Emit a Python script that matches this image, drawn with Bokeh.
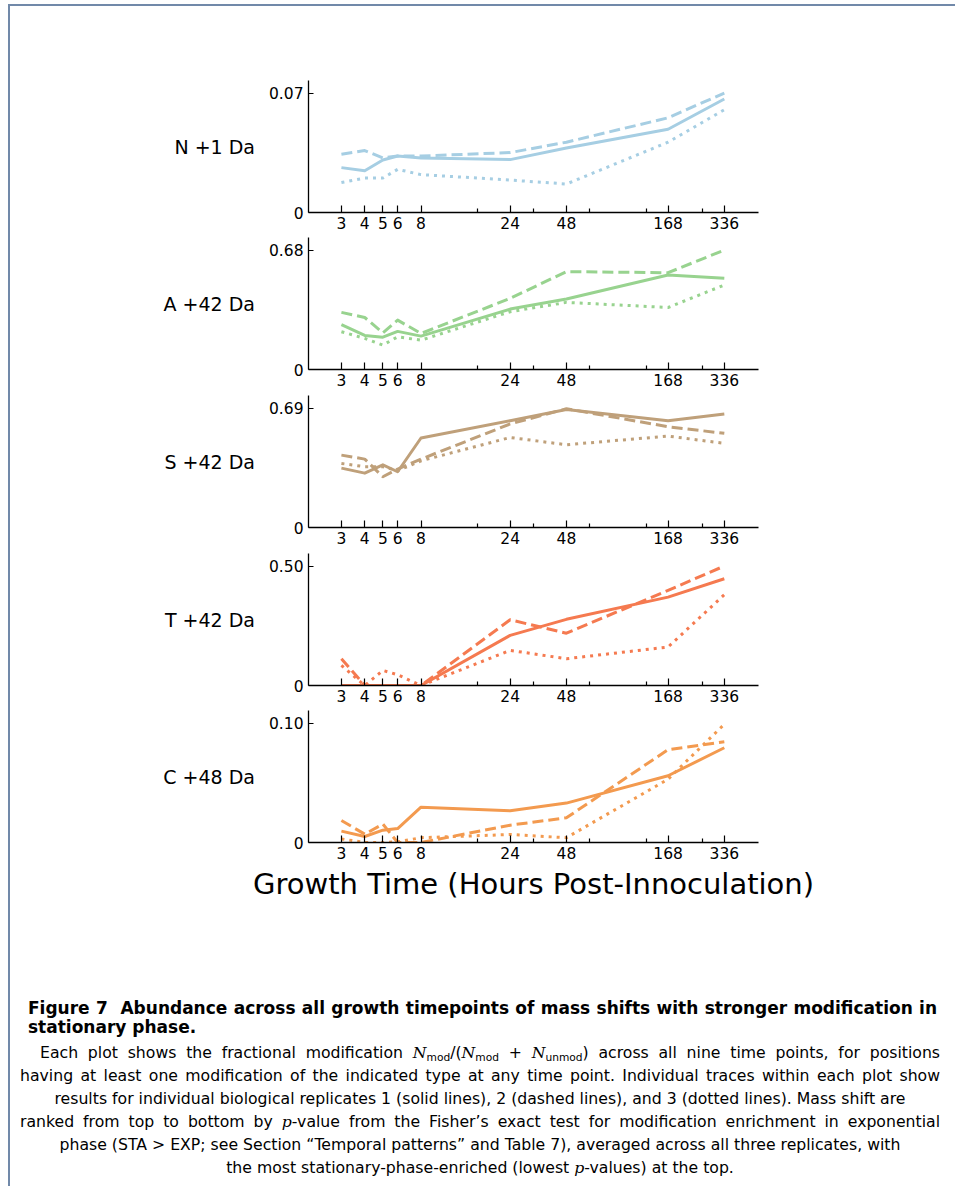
from bokeh.plotting import figure
from bokeh.models import Range1d, FixedTicker, CustomJSTickFormatter, Div
from bokeh.layouts import column
from bokeh.embed import file_html
from bokeh.resources import INLINE

# ---- data -------------------------------------------------------------
TIMES = [3, 4, 5, 6, 8, 24, 48, 168, 336]
MINOR_TICKS = [16, 32, 64, 128, 256]

PANEL_LABELS = ["N +1 Da", "A +42 Da", "S +42 Da", "T +42 Da", "C +48 Da"]
PANEL_YMAX = [0.07, 0.68, 0.69, 0.50, 0.10]
PANEL_COLORS = ["#a6cee3", "#98d38f", "#bfa07a", "#f57a50", "#f39a4f"]

N_REP1 = [0.0263, 0.0245, 0.0308, 0.0331, 0.0320, 0.0310, 0.0378, 0.0488, 0.0665]
N_REP2 = [0.0341, 0.0363, 0.0320, 0.0331, 0.0331, 0.0351, 0.0412, 0.0555, 0.0700]
N_REP3 = [0.0176, 0.0202, 0.0202, 0.0253, 0.0222, 0.0190, 0.0167, 0.0412, 0.0602]

A_REP1 = [0.256, 0.194, 0.184, 0.217, 0.190, 0.344, 0.401, 0.538, 0.519]
A_REP2 = [0.325, 0.296, 0.209, 0.281, 0.205, 0.405, 0.557, 0.551, 0.680]
A_REP3 = [0.215, 0.177, 0.139, 0.186, 0.167, 0.329, 0.382, 0.353, 0.481]

S_REP1 = [0.343, 0.314, 0.362, 0.322, 0.517, 0.617, 0.682, 0.617, 0.655]
S_REP2 = [0.418, 0.395, 0.293, 0.337, 0.395, 0.598, 0.686, 0.582, 0.544]
S_REP3 = [0.370, 0.351, 0.351, 0.328, 0.385, 0.520, 0.478, 0.528, 0.486]

T_REP1 = [0.0, 0.0, 0.0, 0.0, 0.0, 0.210, 0.277, 0.370, 0.447]
T_REP2 = [0.112, 0.0, 0.0, 0.0, 0.0, 0.275, 0.219, 0.398, 0.500]
T_REP3 = [0.084, 0.0, 0.063, 0.045, 0.0, 0.147, 0.112, 0.161, 0.380]

C_REP1 = [0.0095, 0.0050, 0.0103, 0.0117, 0.0296, 0.0265, 0.0330, 0.0559, 0.0793]
C_REP2 = [0.0184, 0.0070, 0.0154, 0.0, 0.0, 0.0145, 0.0207, 0.0777, 0.0844]
C_REP3 = [0.0030, 0.0, 0.0, 0.0006, 0.0040, 0.0067, 0.0040, 0.0530, 0.0990]

PANEL_DATA = [
    [N_REP1, N_REP2, N_REP3],
    [A_REP1, A_REP2, A_REP3],
    [S_REP1, S_REP2, S_REP3],
    [T_REP1, T_REP2, T_REP3],
    [C_REP1, C_REP2, C_REP3],
]

X_LABEL = "Growth Time (Hours Post-Innoculation)"

# ---- styling ----------------------------------------------------------
FONT = "DejaVu Sans"
DASHES = ["solid", "11 5", "3 5"]
BORDERS = [(74, 25), (0, 26), (0, 26), (0, 25), (0, 60)]


def make_panel(i):
    ymax = PANEL_YMAX[i]
    top, bottom = BORDERS[i]
    p = figure(x_axis_type="log", x_range=Range1d(2, 512),
               y_range=Range1d(0, ymax * 1.105),
               frame_width=450, frame_height=132,
               min_border_left=298, min_border_right=190,
               min_border_top=top, min_border_bottom=bottom,
               output_backend="svg", toolbar_location=None)
    p.outline_line_color = None
    p.grid.visible = False
    p.background_fill_color = None
    p.border_fill_color = None
    for vals, dash in zip(PANEL_DATA[i], DASHES):
        p.line(TIMES, vals, line_color=PANEL_COLORS[i], line_width=3,
               line_dash=dash, line_join="round")

    xa = p.xaxis[0]
    xa.ticker = FixedTicker(ticks=TIMES, minor_ticks=MINOR_TICKS)
    xa.formatter = CustomJSTickFormatter(code="return Math.round(tick).toString();")
    xa.major_tick_in = 7
    xa.major_tick_out = 0
    xa.minor_tick_in = 4
    xa.minor_tick_out = 0
    xa.major_label_text_font = FONT
    xa.major_label_text_font_size = "15.5px"
    xa.major_label_text_color = "black"
    xa.major_label_standoff = 4
    xa.axis_line_width = 1.3
    xa.major_tick_line_width = 1.2
    xa.minor_tick_line_width = 1.2
    if i == 4:
        xa.axis_label = X_LABEL
        xa.axis_label_text_font = FONT
        xa.axis_label_text_font_style = "normal"
        xa.axis_label_text_font_size = "29px"
        xa.axis_label_text_color = "black"
        xa.axis_label_standoff = 5

    ya = p.yaxis[0]
    ya.ticker = FixedTicker(ticks=[0, ymax])
    ya.formatter = CustomJSTickFormatter(
        code="return tick == 0 ? '0' : tick.toFixed(2);")
    ya.major_tick_in = 5
    ya.major_tick_out = 0
    ya.minor_tick_line_color = None
    ya.major_label_text_font = FONT
    ya.major_label_text_font_size = "15.5px"
    ya.major_label_text_color = "black"
    ya.major_label_standoff = 5
    ya.axis_line_width = 1.3
    ya.major_tick_line_width = 1.2
    ya.axis_label = PANEL_LABELS[i]
    ya.axis_label_orientation = "horizontal"
    ya.axis_label_text_font = FONT
    ya.axis_label_text_font_style = "normal"
    ya.axis_label_text_font_size = "19px"
    ya.axis_label_text_color = "black"
    ya.axis_label_standoff = 11
    return p


panels = [make_panel(i) for i in range(5)]

CAP_FONT = "'DejaVu Sans', sans-serif"
MATH = "font-family:'DejaVu Serif',serif;font-style:italic;"
SUB = "font-size:0.68em;vertical-align:-0.3em;line-height:0;"
N = f"<span style=\"{MATH}\">N</span>"
PV = f"<span style=\"{MATH}\">p</span>"
JUST = "text-align:justify;text-align-last:justify;"

caption_html = f"""
<div style="font-family:{CAP_FONT};color:#000;width:935px;white-space:nowrap;padding-top:91px;">
<div style="font-weight:bold;font-size:17px;line-height:19px;margin-left:13px;width:909px;">
<div style="{JUST}white-space:normal;">Figure 7&nbsp; Abundance across all growth timepoints of mass shifts with stronger modification in</div>
<div>stationary phase.</div>
</div>
<div style="font-size:15.7px;line-height:23px;text-align:center;margin-top:4px;margin-left:5px;width:920px;">
<div style="{JUST}white-space:normal;padding-left:20px;">Each plot shows the fractional modification {N}<span style="{SUB}">mod</span>/({N}<span style="{SUB}">mod</span> + {N}<span style="{SUB}">unmod</span>) across all nine time points, for positions</div>
<div style="{JUST}white-space:normal;">having at least one modification of the indicated type at any time point. Individual traces within each plot show</div>
<div>results for individual biological replicates 1 (solid lines), 2 (dashed lines), and 3 (dotted lines). Mass shift are</div>
<div style="{JUST}white-space:normal;">ranked from top to bottom by {PV}-value from the Fisher&rsquo;s exact test for modification enrichment in exponential</div>
<div>phase (STA &gt; EXP; see Section &ldquo;Temporal patterns&rdquo; and Table 7), averaged across all three replicates, with</div>
<div>the most stationary-phase-enriched (lowest {PV}-values) at the top.</div>
</div>
</div>
"""

caption = Div(text=caption_html, width=935, height=273)

layout = column(*panels, caption, spacing=0, margin=(4, 0, 0, 8),
                styles={"border-top": "2px solid #7189a9",
                        "border-left": "2px solid #7189a9"})

open("out.html", "w").write(file_html(layout, INLINE))
